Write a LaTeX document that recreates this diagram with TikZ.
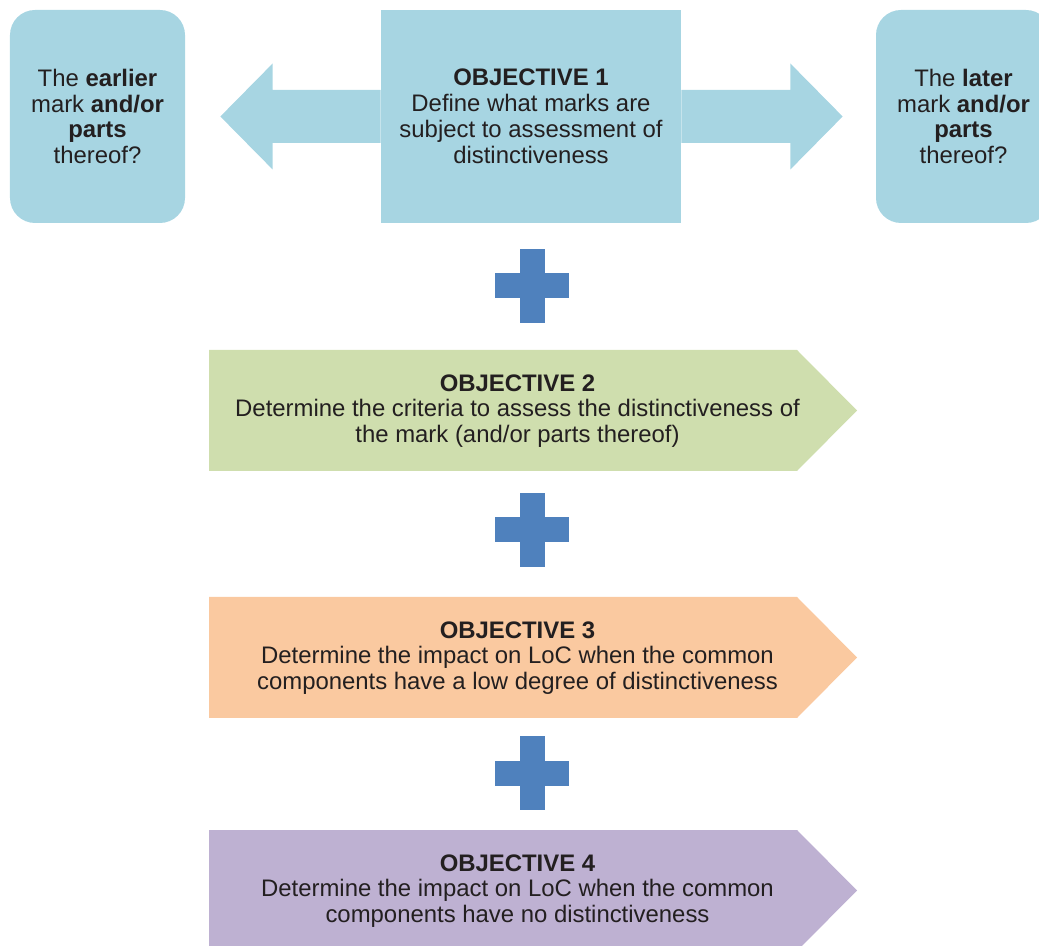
\documentclass[tikz,border=0pt]{standalone}
\usepackage{fontspec}
\setmainfont{Liberation Sans}
\usepackage{tikz}
\usetikzlibrary{positioning}

\definecolor{boxblue}{HTML}{A7D5E2}
\definecolor{plusblue}{HTML}{4F81BD}
\definecolor{objgreen}{HTML}{CFDEAE}
\definecolor{objorange}{HTML}{FAC9A0}
\definecolor{objpurple}{HTML}{BEB1D2}
\definecolor{textgrey}{HTML}{231F20}

\begin{document}
\begin{tikzpicture}[
  txt/.style={align=center,text=textgrey,inner sep=0pt,font=\fontsize{13.6}{14.7}\selectfont},
  sidebox/.style={txt,fill=boxblue,rounded corners=0.5cm,minimum width=3.5cm,minimum height=4.26cm},
  mainbox/.style={txt,fill=boxblue,minimum width=6cm,minimum height=4.26cm}]
\useasboundingbox (0,0) rectangle (20.78,-18.92);
\clip (0,0) rectangle (20.78,-18.92);
% top row
\node[mainbox] (obj1) at (10.62,-2.33) {\textbf{OBJECTIVE 1}\\Define what marks are\\subject to assessment of\\distinctiveness};
\node[sidebox] (earlier) at (1.95,-2.33) {The \textbf{earlier}\\mark \textbf{and/or}\\\textbf{parts}\\thereof?};
\node[sidebox] (later) at (19.27,-2.33) {The \textbf{later}\\mark \textbf{and/or}\\\textbf{parts}\\thereof?};
% block arrows
\fill[boxblue] ([yshift=0.53cm]obj1.west) -- ([xshift=-2.16cm,yshift=0.53cm]obj1.west)
  -- ([xshift=-2.16cm,yshift=1.06cm]obj1.west) -- ([xshift=0.7cm]earlier.east)
  -- ([xshift=-2.16cm,yshift=-1.06cm]obj1.west) -- ([xshift=-2.16cm,yshift=-0.53cm]obj1.west)
  -- ([yshift=-0.53cm]obj1.west) -- cycle;
\fill[boxblue] ([yshift=0.53cm]obj1.east) -- ([xshift=2.18cm,yshift=0.53cm]obj1.east)
  -- ([xshift=2.18cm,yshift=1.06cm]obj1.east) -- ([xshift=-0.66cm]later.west)
  -- ([xshift=2.18cm,yshift=-1.06cm]obj1.east) -- ([xshift=2.18cm,yshift=-0.53cm]obj1.east)
  -- ([yshift=-0.53cm]obj1.east) -- cycle;
% objective arrows
\foreach \y/\c in {-7.00/objgreen,-11.94/objorange,-16.60/objpurple}
  \fill[\c] (4.18,\y) -- (15.94,\y) -- (17.14,\y-1.21) -- (15.94,\y-2.42) -- (4.18,\y-2.42) -- cycle;
\node[txt] (obj2) at (10.35,-8.22) {\textbf{OBJECTIVE 2}\\Determine the criteria to assess the distinctiveness of\\the mark (and/or parts thereof)};
\node[txt] (obj3) at (10.35,-13.16) {\textbf{OBJECTIVE 3}\\Determine the impact on LoC when the common\\components have a low degree of distinctiveness};
\node[txt] (obj4) at (10.35,-17.82) {\textbf{OBJECTIVE 4}\\Determine the impact on LoC when the common\\components have no distinctiveness};
% plus signs
\foreach \y in {-5.72,-10.60,-15.46} {
  \fill[plusblue] (10.39,\y+0.74) rectangle (10.89,\y-0.74);
  \fill[plusblue] (9.90,\y+0.25) rectangle (11.38,\y-0.25);
}
\end{tikzpicture}
\end{document}
